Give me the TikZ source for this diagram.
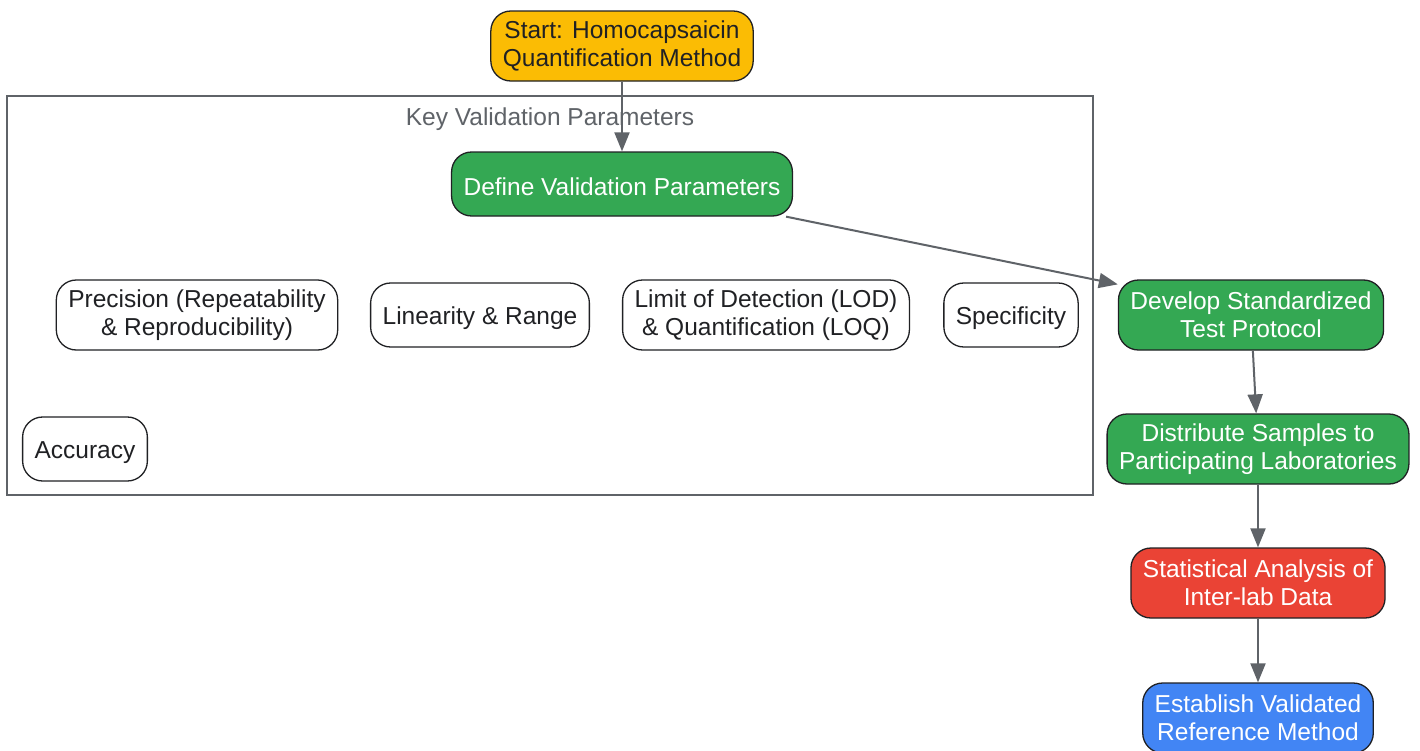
\documentclass[tikz,border=0pt]{standalone}
\usepackage{fontspec}
\setmainfont{Liberation Sans}
\usetikzlibrary{shapes,arrows.meta}
\definecolor{gyellow}{HTML}{FBBC04}
\definecolor{ggreen}{HTML}{34A853}
\definecolor{gred}{HTML}{EA4335}
\definecolor{gblue}{HTML}{4285F4}
\definecolor{edgegrey}{HTML}{5F6368}
\definecolor{inkdark}{HTML}{202124}

\begin{document}
\begin{tikzpicture}[x=1pt,y=-1pt,
		>={Triangle[length=19pt,width=15pt]},
		box/.style={draw=inkdark,line width=1.3pt,rounded corners=20pt,align=center,inner xsep=12pt,inner ysep=4pt,font=\fontsize{24.5}{28}\selectfont},
		twoline/.style={box,minimum height=70pt},
		oneline/.style={box,minimum height=64pt,text height=24pt},
		flow/.style={->,draw=edgegrey,line width=2pt}]
		\useasboundingbox[fill=white] (0,0) rectangle (1420,750);
		\draw[edgegrey,line width=1.5pt] (7,96) rectangle (1093,495);
		\node[text=edgegrey,font=\fontsize{24.5}{28}\selectfont] (keylabel) at (550,119) {Key Validation Parameters};
		\node[twoline,fill=gyellow,text=inkdark] (start) at (622,46) {Start: Homocapsaicin\\Quantification Method};
		\node[oneline,fill=ggreen,text=white] (define) at (622,184) {Define Validation Parameters};
		\node[twoline,fill=white,text=inkdark] (precision) at (197,315) {Precision (Repeatability\\\& Reproducibility)};
		\node[oneline,fill=white,text=inkdark] (linearity) at (480,315) {Linearity \& Range};
		\node[twoline,fill=white,text=inkdark] (lod) at (766,315) {Limit of Detection (LOD)\\\& Quantification (LOQ)};
		\node[oneline,fill=white,text=inkdark] (specificity) at (1011,315) {Specificity};
		\node[oneline,fill=white,text=inkdark] (accuracy) at (85,449) {Accuracy};
		\node[twoline,fill=ggreen,text=white] (develop) at (1251,315) {Develop Standardized\\Test Protocol};
		\node[twoline,fill=ggreen,text=white] (distribute) at (1258,449) {Distribute Samples to\\Participating Laboratories};
		\node[twoline,fill=gred,text=white] (stats) at (1258,583) {Statistical Analysis of\\Inter-lab Data};
		\node[twoline,fill=gblue,text=white] (establish) at (1258,718) {Establish Validated\\Reference Method};
		\draw[flow] (start) -- (define);
		\draw[flow] ([xshift=-7pt]define.south east) -- ([yshift=-5pt]develop.north west);
		\draw[flow] (develop) -- (distribute);
		\draw[flow] (distribute) -- (stats);
		\draw[flow] (stats) -- (establish);
\end{tikzpicture}
\end{document}
